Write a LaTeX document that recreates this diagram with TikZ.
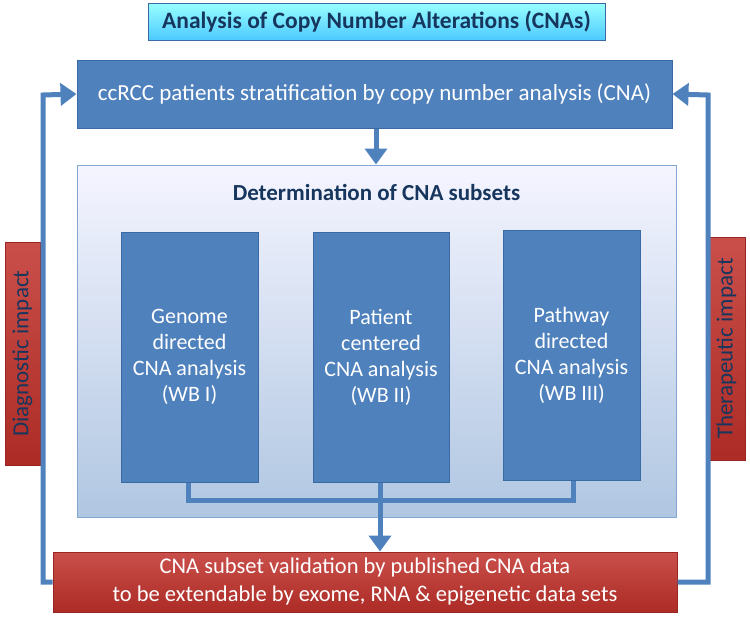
\documentclass[tikz,border=0pt]{standalone}
\usepackage{fontspec}
\setmainfont{Carlito}
\usetikzlibrary{arrows.meta}
\definecolor{bl}{HTML}{4F81BD}
\definecolor{bld}{HTML}{3A6AA6}
\definecolor{rd}{HTML}{C0302A}
\definecolor{tx}{HTML}{17365D}
\tikzset{
 bluebox/.style={draw=bld,line width=1pt,fill=bl,text=white,align=center,inner sep=0pt},
 redbox/.style={draw=rd!80!black,line width=1pt,top color=rd!85!white,bottom color=rd!90!black,text=white,align=center,inner sep=0pt},
 conn/.style={draw=bl,line width=5pt},
 arr/.style={conn,-{Triangle[length=16pt,width=22pt]}},
}
\begin{document}
\begin{tikzpicture}[x=1pt,y=-1pt]
\useasboundingbox (0,0) rectangle (750,632);
\node[draw=bld,line width=1pt,top color=cyan!40!white,bottom color=cyan!70!blue!70!white,text=tx,font=\bfseries\fontsize{23.5}{26}\selectfont,minimum width=457pt,minimum height=37pt,inner sep=0pt] (title) at (376.5,21.5) {Analysis of Copy Number Alterations (CNAs)};
\node[bluebox,font=\fontsize{23}{26}\selectfont,minimum width=595pt,minimum height=68pt] (top) at (374.5,94) {ccRCC patients stratification by copy number analysis (CNA)};
\node[draw=bl!70,line width=1pt,top color=blue!4!white,bottom color=bl!45!white,minimum width=599pt,minimum height=352pt,inner sep=0pt] (panel) at (376.5,341) {};
\node[text=tx,font=\bfseries\fontsize{23}{26}\selectfont] (det) at (376.5,192) {Determination of CNA subsets};
\node[bluebox,font=\fontsize{22}{26}\selectfont,minimum width=137pt,minimum height=250pt] (b1) at (189.5,357) {Genome\\directed\\CNA analysis\\(WB I)};
\node[bluebox,font=\fontsize{22}{26}\selectfont,minimum width=136pt,minimum height=250pt] (b2) at (381,357) {Patient\\centered\\CNA analysis\\(WB II)};
\node[bluebox,font=\fontsize{22}{26}\selectfont,minimum width=137pt,minimum height=250pt] (b3) at (571.5,355) {Pathway\\directed\\CNA analysis\\(WB III)};
\node[redbox,font=\fontsize{22.5}{28}\selectfont,minimum width=624pt,minimum height=60pt] (val) at (365,582) {CNA subset validation by published CNA data\\to be extendable by exome, RNA \& epigenetic data sets};
\node[redbox,rotate=90,text=tx,font=\fontsize{23}{26}\selectfont,minimum width=223pt,minimum height=35pt] (diag) at (22.5,353.5) {Diagnostic impact};
\node[redbox,rotate=90,text=tx,font=\fontsize{23}{26}\selectfont,minimum width=223pt,minimum height=37pt] (ther) at (726.5,348.5) {Therapeutic impact};
\coordinate (j) at (380,500);
\draw[arr] (top.south -| 376,0) -- (panel.north -| 376,0);
\draw[conn] (b1.south -| 188,0) |- (j);
\draw[conn] (b3.south -| 573,0) |- (j);
\draw[conn] (b2.south -| 380,0) -- (j);
\draw[arr] (j) -- (val.north -| 380,0);
\draw[arr] (val.west) -| (43,95) -- (top.west);
\draw[arr] (val.east) -| (708,95) -- (top.east);
\end{tikzpicture}
\end{document}
